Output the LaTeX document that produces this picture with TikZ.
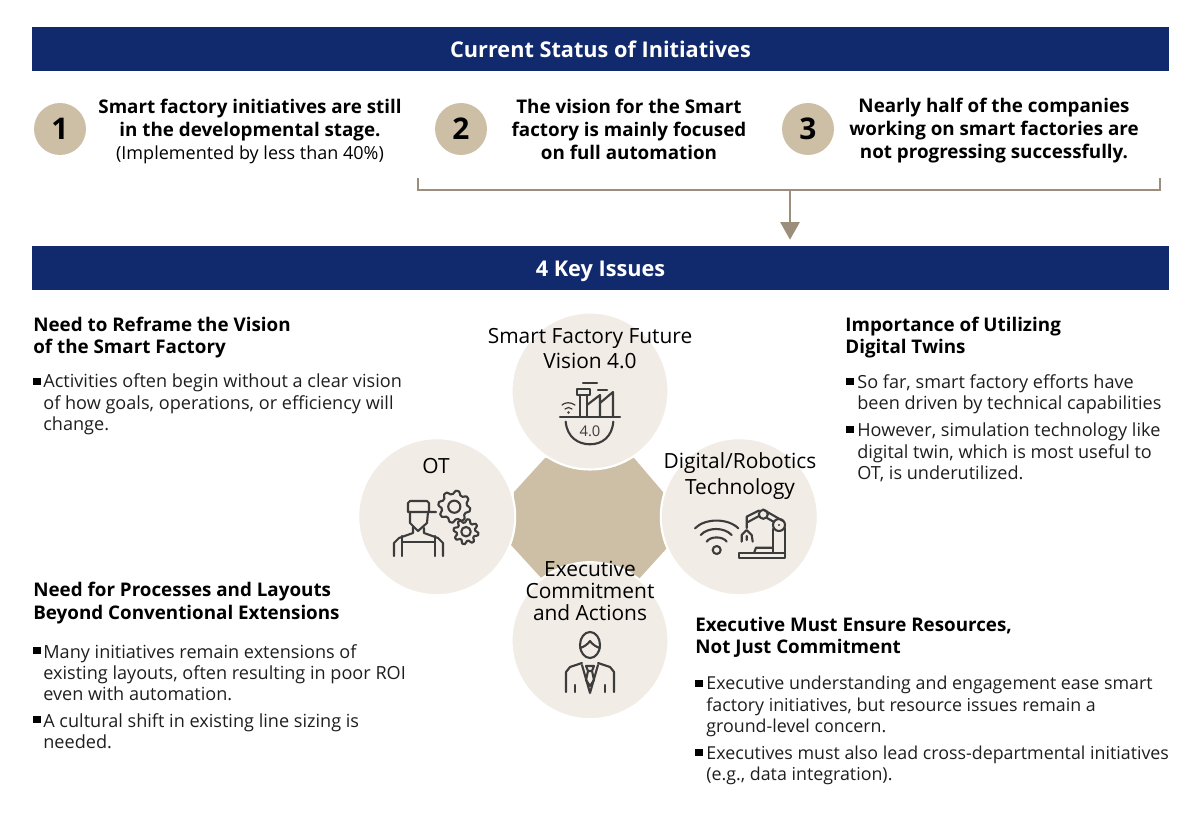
\documentclass[tikz,border=0pt]{standalone}
\usepackage{fontspec}
\setmainfont{Open Sans}
\usetikzlibrary{arrows.meta}
\definecolor{navybar}{HTML}{112A6E}
\definecolor{tanfill}{HTML}{CDBFA5}
\definecolor{palefill}{HTML}{F1ECE5}
\definecolor{linebrown}{HTML}{9C8E7A}
\definecolor{icondark}{HTML}{3C3C3C}
\definecolor{inktext}{HTML}{1E1E1E}
\tikzset{
  titlebar/.style={rectangle,fill=navybar,text=white,minimum width=22.74cm,minimum height=.88cm,inner sep=0pt,text height=12pt,text depth=1.8pt,font=\fontsize{12.35}{14}\selectfont\bfseries},
  numdisc/.style={circle,fill=tanfill,text=black,minimum size=1.04cm,inner sep=0pt,font=\fontsize{17}{20}\selectfont\bfseries},
  itemtxt/.style={align=center,inner sep=0pt,text=black,font=\fontsize{10.7}{13.1}\selectfont\bfseries},
  headtxt/.style={anchor=west,align=left,inner sep=0pt,text=black,font=\fontsize{10.7}{12.6}\selectfont\bfseries},
  bodytxt/.style={anchor=west,align=left,inner sep=0pt,text=inktext,font=\fontsize{10.3}{12.1}\selectfont},
  bulsq/.style={rectangle,fill=black,minimum size=.15cm,inner sep=0pt},
  petal/.style={circle,fill=palefill,draw=white,line width=1.2pt,minimum size=3.14cm,inner sep=0pt},
  petaltxt/.style={align=center,inner sep=0pt,text=black,font=\fontsize{11.9}{14.4}\selectfont},
  icon/.style={draw=icondark,line width=1.2pt,line join=round,line cap=round},
}
\newcommand{\gearshape}[3]{%
  \draw[icon,shift={(#1,#2)},samples=65,domain=0:360]
    plot (\x:{#3-1.6+1.6*sign(sin(8*\x))}) -- cycle
    (0,0) circle ({#3*0.38});}
\begin{document}
\begin{tikzpicture}[x=0.02cm,y=-0.02cm]
\useasboundingbox (0,0) rectangle (1200,813);

\node[titlebar] (statusbar) at (600.5,49) {Current Status of Initiatives};
\node[titlebar] (keybar) at (600.5,268) {4 Key Issues};

\node[numdisc] (n1) at (60,129) {1};
\node[numdisc] (n2) at (461,129) {2};
\node[numdisc] (n3) at (808,129) {3};
\node[itemtxt] (t1) at (250,131) {Smart factory initiatives are still\\in the developmental stage.\\{\mdseries\fontsize{10.25}{13.1}\selectfont (Implemented by less than 40\%)}};
\node[itemtxt] (t2) at (629,129) {The vision for the Smart\\factory is mainly focused\\on full automation};
\node[itemtxt] (t3) at (994,131) {Nearly half of the companies\\working on smart factories are\\not progressing successfully.};

\coordinate (brL) at (418,178);
\coordinate (brR) at (1160,178);
\coordinate (brM) at (790,190);
\draw[linebrown,line width=.85pt] (brL) -- (brL |- brM) -- (brR |- brM) -- (brR);
\draw[linebrown,line width=.85pt,shorten >=3.4pt,-{Triangle[length=10pt,width=11pt]}] (brM) -- (brM |- keybar.north);

\fill[tanfill] (514,492) -- (545,458) -- (634,458) -- (663,492) -- (667,548) -- (638,580) -- (543,580) -- (511,545) -- cycle;
\node[petal] (vision) at (590,391) {};
\node[petal] (ot) at (436.7,516.7) {};
\node[petal] (tech) at (739.3,516.7) {};
\node[petal] (exec) at (590,640.7) {};

\node[petaltxt] (visiontxt) at (590,348.5) {Smart Factory Future\\Vision 4.0};
\node[petaltxt] (ottxt) at (436,466) {OT};
\node[petaltxt] (techtxt) at (740,476) {Digital/Robotics\\Technology};
\node[petaltxt,font=\fontsize{11.9}{12.6}\selectfont] (exectxt) at (590,591) {Executive\\Commitment\\and Actions};

\draw[icon] (560,417.3) -- (620,417.3);
\draw[icon] (565.7,421.7) .. controls (567,437) and (578,444.3) .. (590,444.3) .. controls (602,444.3) and (612,437) .. (613.3,421.7);
\node[inner sep=0pt,text=icondark,font=\fontsize{8.4}{9}\selectfont] (fourzero) at (590,431) {4.0};
\draw[icon] (580,417) -- (580,395) (587,395) -- (587,417) (577,389) rectangle (590,395) (583,383) -- (597,383) (598,390) -- (607,390);
\draw[icon] (587,405) -- (600,395) -- (600,417) (600,403) -- (613,392) -- (613,417);
\draw[icon,line width=.7pt] (562,405) .. controls (565,402) and (571,402) .. (575,405) (565,409) .. controls (567,407) and (570,407) .. (572,409);
\fill[icondark] (568.5,412.5) circle (1.3);

\draw[icon] (408,512) -- (408,503) -- (410,501) -- (427,501) -- (429,503) -- (429,512) (408,512) -- (436,512);
\draw[icon] (410,512) -- (410,523) -- (418,531) -- (427,523) -- (428,512);
\draw[icon] (413,527) -- (413,533) -- (399,538) -- (394,543) -- (394,556);
\draw[icon] (424,528) -- (424,533) -- (438,538) -- (443,543) -- (443,556);
\draw[icon] (402,536) -- (402,556) (435,536) -- (435,556) (402,542) -- (435,542);
\gearshape{454.3}{506.7}{16}
\gearshape{466}{531.7}{12.5}

\draw[icon] (706.7,541.7) .. controls (710,536) and (723,536) .. (726.7,541.7);
\draw[icon] (700.7,535) .. controls (708,527) and (724,527) .. (731.7,535);
\draw[icon] (695,528.3) .. controls (705,518) and (728,518) .. (738.3,528.3);
\draw[icon] (716.7,550) circle (4);
\draw[icon] (739.3,553.3) rectangle (785,558.3);
\draw[icon] (754,553) -- (756,547.7) -- (772.7,547.7);
\draw[icon] (772.7,529) -- (772.7,553) (785,528) -- (785,553);
\draw[icon] (779,525) circle (6);
\draw[icon] (763.3,514.3) circle (4.5);
\fill[icondark] (779,525) circle (1.2);
\draw[icon] (763,509.5) -- (783,521) (767,518) -- (774,522);
\draw[icon] (759,510.5) -- (746.7,516.7) -- (746.7,528) (748,522) -- (759,516);
\draw[icon] (741.7,541.7) -- (741.7,535) -- (746.7,530) -- (751.7,535) -- (752.7,541.7) (746.7,536) -- (746.7,540);

\draw[icon] (590,645) ellipse (10 and 13);
\draw[icon] (580,648) .. controls (584,647) and (588,644) .. (590,641) .. controls (592,644) and (596,647) .. (600,648);
\draw[icon] (566,692) -- (566,672) -- (570,667) -- (582,663);
\draw[icon] (614,692) -- (614,672) -- (610,667) -- (598,663);
\draw[icon] (582,665) -- (590,693) -- (598,665);
\draw[icon] (586,666) -- (594,666) -- (592,671) -- (588,671) -- cycle (588,671) -- (586,680) -- (590,686) -- (594,680) -- (592,671);
\draw[icon] (575,685) -- (575,692) (605,685) -- (605,692);

\node[headtxt] (visionhead) at (33,338) {Need to Reframe the Vision\\of the Smart Factory};
\node[bulsq] (b1) at (37,381.5) {};
\node[bodytxt] (visionbody) at (43,404.5) {Activities often begin without a clear vision\\of how goals, operations, or efficiency will\\change.};

\node[headtxt] (layouthead) at (33,603) {Need for Processes and Layouts\\Beyond Conventional Extensions};
\node[bulsq] (b2) at (37,650.5) {};
\node[bodytxt] (layoutbody1) at (43,672.5) {Many initiatives remain extensions of\\existing layouts, often resulting in poor ROI\\even with automation.};
\node[bulsq] (b3) at (37,719.5) {};
\node[bodytxt] (layoutbody2) at (43,731.5) {A cultural shift in existing line sizing is\\needed.};

\node[headtxt] (twinhead) at (845,338) {Importance of Utilizing\\Digital Twins};
\node[bulsq] (b4) at (850,381.5) {};
\node[bodytxt] (twinbody1) at (857,394) {So far, smart factory efforts have\\been driven by technical capabilities};
\node[bulsq] (b5) at (850,429.5) {};
\node[bodytxt] (twinbody2) at (857,452.5) {However, simulation technology like\\digital twin, which is most useful to\\OT, is underutilized.};

\node[headtxt] (exechead) at (695,637) {Executive Must Ensure Resources,\\Not Just Commitment};
\node[bulsq] (b6) at (699,683.5) {};
\node[bodytxt,font=\fontsize{10.15}{12.1}\selectfont] (execbody1) at (706,706.5) {Executive understanding and engagement ease smart\\factory initiatives, but resource issues remain a\\ground-level concern.};
\node[bulsq] (b7) at (699,752.5) {};
\node[bodytxt,font=\fontsize{10.15}{12.1}\selectfont] (execbody2) at (706,765.5) {Executives must also lead cross-departmental initiatives\\(e.g., data integration).};
\end{tikzpicture}
\end{document}
